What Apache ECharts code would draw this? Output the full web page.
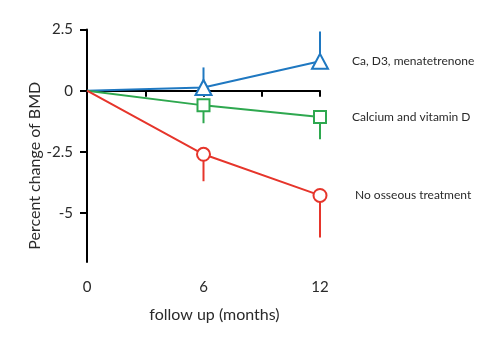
<!DOCTYPE html>
<html><head><meta charset="utf-8">
<script src="https://cdn.jsdelivr.net/npm/echarts@6/dist/echarts.min.js"></script>
<style>html,body{margin:0;padding:0;background:#fff}#c{width:500px;height:340px}</style>
</head><body><div id="c"></div>
<script>
var months = [0, 6, 12];
var xTickLabels = [0, 6, 12];
var yTickLabels = [2.5, 0, -2.5, -5];
var seriesNames = ['Ca, D3, menatetrenone', 'Calcium and vitamin D', 'No osseous treatment'];
var menaValues = [0, 0.13, 1.2];
var menaErrEnd = [null, 0.95, 2.42];
var calcValues = [0, -0.6, -1.08];
var calcErrEnd = [null, -1.33, -1.98];
var noneValues = [0, -2.6, -4.28];
var noneErrEnd = [null, -3.7, -6.0];

var colors = ['#1f78c1', '#2ea84f', '#e6352b'];
var symbols = ['triangle', 'rect', 'circle'];
var symbolSizes = [[16, 15], 12, 13];
var valueSets = [menaValues, calcValues, noneValues];
var errSets = [menaErrEnd, calcErrEnd, noneErrEnd];
var FONT = 'Lato';

var series = [];
valueSets.forEach(function (vals, i) {
  var errData = [];
  months.forEach(function (m, k) {
    if (errSets[i][k] !== null) errData.push([m, vals[k], errSets[i][k]]);
  });
  series.push({
    type: 'custom',
    z: 1,
    silent: true,
    data: errData,
    encode: { x: 0, y: [1, 2] },
    renderItem: function (params, api) {
      var a = api.coord([api.value(0), api.value(1)]);
      var b = api.coord([api.value(0), api.value(2)]);
      return { type: 'line', shape: { x1: a[0], y1: a[1], x2: b[0], y2: b[1] },
               style: { stroke: colors[i], lineWidth: 2 } };
    }
  });
  series.push({
    type: 'line',
    name: seriesNames[i],
    z: 3,
    data: months.map(function (m, k) {
      var d = { value: [m, vals[k]] };
      if (k === 0) d.symbol = 'none';
      return d;
    }),
    symbol: symbols[i],
    symbolSize: symbolSizes[i],
    showAllSymbol: true,
    lineStyle: { color: colors[i], width: 2 },
    itemStyle: { color: '#fff', borderColor: colors[i], borderWidth: 2 },
    endLabel: { show: true, formatter: seriesNames[i], distance: i === 2 ? 35 : 32,
                fontFamily: FONT, fontSize: 12, color: '#2a2a2a' },
    animation: false
  });
});

var chart = echarts.init(document.getElementById('c'));
chart.setOption({
  animation: false,
  grid: { left: 87, right: 180, top: 29.5, bottom: 78 },
  xAxis: {
    type: 'value', min: 0, max: 12, interval: 3,
    name: 'follow up (months)', nameLocation: 'middle', nameGap: 45,
    nameTextStyle: { fontFamily: FONT, fontSize: 16, color: '#2a2a2a', padding: [0, 0, 0, 22] },
    axisLine: { lineStyle: { color: '#000', width: 2 } },
    axisTick: { length: 6, lineStyle: { color: '#000', width: 2 } },
    axisLabel: { customValues: xTickLabels, margin: 18, fontFamily: FONT, fontSize: 15, color: '#2a2a2a' },
    splitLine: { show: false }
  },
  yAxis: {
    type: 'value', min: -7, max: 2.5,
    name: 'Percent change of BMD', nameLocation: 'middle', nameGap: 43,
    nameTextStyle: { fontFamily: FONT, fontSize: 16, color: '#2a2a2a', padding: [0, 40, 0, 0] },
    axisLine: { show: true, lineStyle: { color: '#000', width: 2 } },
    axisTick: { show: true, length: 7, customValues: yTickLabels, lineStyle: { color: '#000', width: 2 } },
    axisLabel: { customValues: yTickLabels, margin: 14, fontFamily: FONT, fontSize: 15, color: '#2a2a2a',
                 formatter: function (v) { return String(v); } },
    splitLine: { show: false }
  },
  series: series
});
</script></body></html>
